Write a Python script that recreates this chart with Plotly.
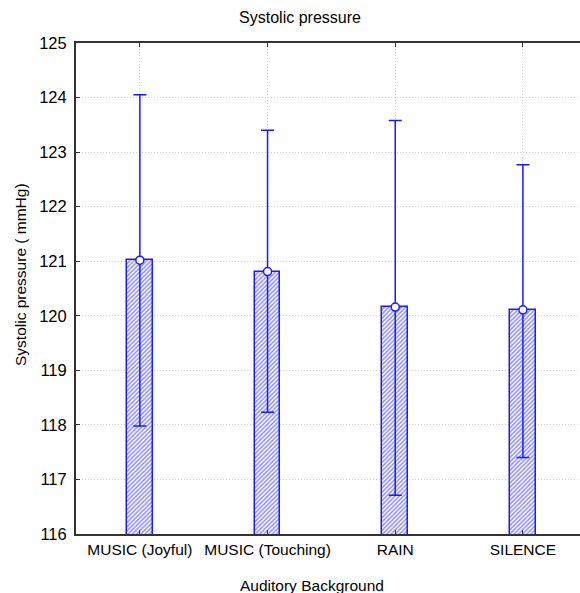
import plotly.graph_objects as go

categories = ["MUSIC (Joyful)", "MUSIC (Touching)", "RAIN", "SILENCE"]
means = [121.02, 120.81, 120.16, 120.11]
upper = [124.05, 123.40, 123.58, 122.77]
lower = [117.98, 118.23, 116.71, 117.40]
y_ticks = [116, 117, 118, 119, 120, 121, 122, 123, 124, 125]

err_plus = [u - m for u, m in zip(upper, means)]
err_minus = [m - l for m, l in zip(means, lower)]
xs = list(range(len(categories)))

BLUE = "#1a1aff"
FONT = "Arial, Liberation Sans, sans-serif"

fig = go.Figure()
fig.add_trace(go.Bar(
    x=xs, y=means, width=0.2,
    marker=dict(color="white", line=dict(color=BLUE, width=1.5),
                pattern=dict(shape="/", fgcolor=BLUE, bgcolor="white", size=3, solidity=0.5)),
    error_y=dict(type="data", symmetric=False, array=err_plus, arrayminus=err_minus,
                 color=BLUE, thickness=1.5, width=6.5),
    showlegend=False,
))
fig.add_trace(go.Scatter(
    x=xs, y=means, mode="markers",
    marker=dict(symbol="circle", size=8, color="white", line=dict(color=BLUE, width=1.5)),
    showlegend=False,
))

fig.update_layout(
    width=580, height=593,
    margin=dict(l=76, r=0, t=43, b=59),
    paper_bgcolor="white", plot_bgcolor="white",
    font=dict(family=FONT, size=15, color="black"),
    title=dict(text="Systolic pressure", x=300/580, xref="container", xanchor="center",
               y=1 - 17/593, yref="container", yanchor="middle", font=dict(size=16)),
    bargap=0,
)
fig.update_xaxes(
    range=[-0.5, 3.447], tickmode="array", tickvals=xs, ticktext=categories,
    showline=True, linecolor="#333333", linewidth=2, mirror="ticks",
    ticks="inside", ticklen=4, tickcolor="#333333",
    showgrid=True, gridcolor="#d4d4d4", griddash="1px,2px", gridwidth=1,
    tickfont=dict(size=15.5), zeroline=False,
)
fig.update_yaxes(
    range=[116, 125], tickmode="array", tickvals=y_ticks,
    showline=True, linecolor="#333333", linewidth=2, mirror=False,
    ticks="inside", ticklen=4, tickcolor="#333333",
    showgrid=True, gridcolor="#d4d4d4", griddash="1px,2px", gridwidth=1,
    tickfont=dict(size=16.5), zeroline=False, ticklabelstandoff=4,
)
fig.add_annotation(text="Auditory Background", xref="paper", yref="paper",
                   x=(312 - 76) / 504, y=-(585 - 534) / 491, xanchor="center", yanchor="middle",
                   showarrow=False, font=dict(size=15.5))
fig.add_annotation(text="Systolic pressure ( mmHg)", xref="paper", yref="paper",
                   x=-(76 - 20) / 504, y=(534 - 275) / 491, xanchor="center", yanchor="middle",
                   textangle=-90, showarrow=False, font=dict(size=15.5))

fig.write_html("out.html")
